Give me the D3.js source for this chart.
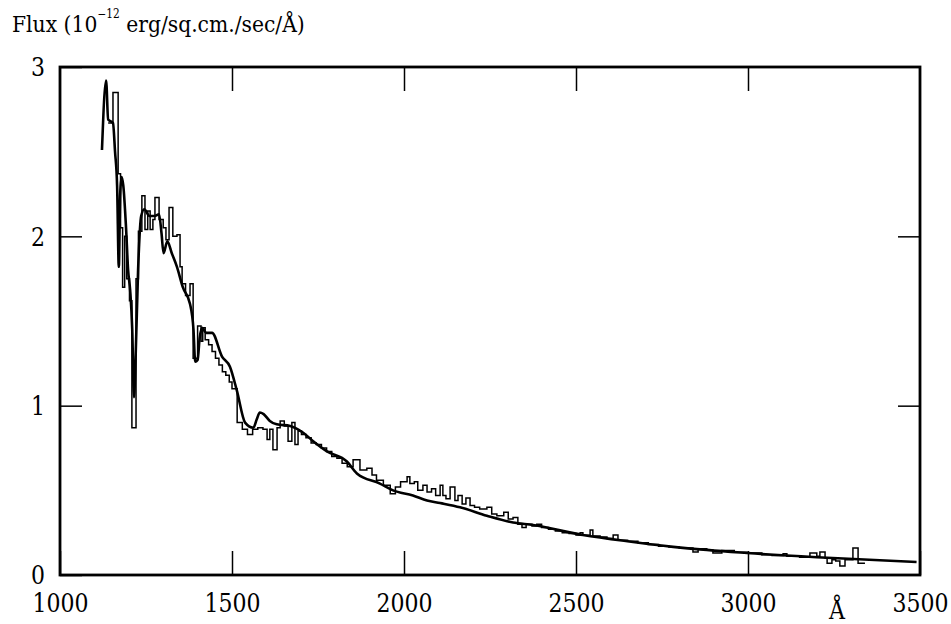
<!DOCTYPE html>
<html>
  <head>
    <meta charset="utf-8">
    <script src="https://d3js.org/d3.v7.min.js"></script>
    <style>
      body { margin: 0; background: #fff; }
      text { font-family: "DejaVu Serif", serif; fill: #000; }
    </style>
  </head>
<body>
  <script type="text/javascript">
    "use strict";

    // smooth model curve (thick line)
    var modelWave = [1122, 1134, 1140, 1154, 1160, 1166, 1171, 1175, 1179, 1184, 1192, 1198, 1204, 1210, 1215,
      1220, 1227, 1236, 1245, 1260, 1275, 1288, 1295, 1301, 1312, 1325, 1340, 1357, 1378, 1388, 1393, 1400,
      1406, 1413, 1425, 1442, 1471, 1494, 1514, 1538, 1562, 1572, 1581, 1592, 1610, 1630, 1669, 1707, 1736,
      1776, 1834, 1863, 1930, 1968, 2026, 2067, 2105, 2163, 2241, 2317, 2375, 2520, 2666, 2811, 2997, 3200, 3490];
    var modelFlux = [2.51, 2.92, 2.69, 2.67, 2.50, 2.30, 1.82, 2.25, 2.35, 2.30, 2.05, 1.80, 1.68, 1.45, 1.05,
      1.30, 1.80, 2.12, 2.16, 2.12, 2.12, 2.13, 2.02, 1.90, 1.97, 1.90, 1.82, 1.70, 1.60, 1.45, 1.26, 1.27,
      1.40, 1.46, 1.43, 1.43, 1.29, 1.23, 1.09, 0.90, 0.87, 0.92, 0.96, 0.95, 0.91, 0.89, 0.88, 0.84, 0.79,
      0.73, 0.67, 0.60, 0.54, 0.50, 0.47, 0.44, 0.425, 0.40, 0.35, 0.31, 0.295, 0.236, 0.195, 0.16, 0.13, 0.105, 0.077];

    // observed spectrum, binned (thin step line); bin start wavelengths
    var obsWave = [1140, 1154, 1169, 1176, 1182, 1188, 1194, 1202, 1209, 1221, 1228, 1238, 1247, 1255, 1262,
      1270, 1276, 1288, 1300, 1308, 1317, 1328, 1340, 1349, 1355, 1365, 1378, 1387, 1400, 1410, 1415, 1422,
      1432, 1442, 1452, 1462, 1472, 1482, 1492, 1500, 1515, 1530, 1545, 1560, 1575, 1590, 1602, 1610, 1619,
      1631, 1640, 1652, 1663, 1674, 1683, 1692, 1702, 1715, 1730, 1745, 1760, 1775, 1790, 1805, 1820, 1835,
      1852, 1872, 1892, 1907, 1920, 1940, 1960, 1975, 1990, 2009, 2017, 2030, 2040, 2055, 2067, 2080, 2092,
      2105, 2113, 2122, 2134, 2148, 2157, 2169, 2180, 2192, 2205, 2220, 2241, 2255, 2270, 2290, 2303, 2317,
      2331, 2343, 2355, 2372, 2386, 2400, 2420, 2440, 2460, 2480, 2500, 2512, 2520, 2541, 2549, 2570, 2590,
      2608, 2622, 2650, 2680, 2710, 2740, 2770, 2800, 2840, 2855, 2880, 2898, 2924, 2960, 3000, 3040, 3070,
      3102, 3113, 3150, 3180, 3200, 3209, 3224, 3230, 3244, 3255, 3267, 3282, 3305, 3320];
    var obsFlux = [2.67, 2.85, 2.37, 2.05, 1.70, 2.00, 1.75, 1.62, 0.87, 1.75, 2.03, 2.24, 2.04, 2.15, 2.04,
      2.10, 2.23, 2.10, 2.05, 1.98, 2.17, 2.00, 2.01, 1.82, 1.72, 1.65, 1.72, 1.28, 1.47, 1.38, 1.46, 1.39,
      1.36, 1.32, 1.28, 1.24, 1.20, 1.18, 1.14, 1.10, 0.90, 0.86, 0.83, 0.86, 0.87, 0.86, 0.80, 0.86, 0.74,
      0.87, 0.91, 0.88, 0.79, 0.90, 0.77, 0.85, 0.83, 0.81, 0.78, 0.77, 0.75, 0.73, 0.70, 0.69, 0.66, 0.64,
      0.68, 0.62, 0.63, 0.59, 0.56, 0.53, 0.48, 0.52, 0.55, 0.58, 0.54, 0.55, 0.50, 0.53, 0.49, 0.51, 0.47,
      0.53, 0.47, 0.45, 0.52, 0.44, 0.47, 0.42, 0.455, 0.41, 0.40, 0.39, 0.40, 0.36, 0.35, 0.37, 0.33, 0.34,
      0.30, 0.28, 0.30, 0.29, 0.30, 0.28, 0.27, 0.26, 0.25, 0.245, 0.236, 0.25, 0.235, 0.266, 0.23, 0.225, 0.215,
      0.236, 0.205, 0.20, 0.19, 0.18, 0.17, 0.165, 0.16, 0.136, 0.155, 0.148, 0.13, 0.145, 0.135, 0.13, 0.12, 0.115,
      0.125, 0.11, 0.105, 0.13, 0.11, 0.136, 0.10, 0.07, 0.09, 0.083, 0.053, 0.09, 0.16, 0.07];
    var obsEnd = 3340;

    var xTicks = [1000, 1500, 2000, 2500, 3000, 3500];
    var yTicks = [0, 1, 2, 3];

    var width = 951, height = 624;
    var plotLeft = 60, plotRight = 920, plotTop = 67, plotBottom = 575;

    var svg = d3.select("body").append("svg")
        .attr("width", width)
        .attr("height", height);

    var x = d3.scaleLinear().domain([1000, 3500]).range([plotLeft, plotRight]);
    var y = d3.scaleLinear().domain([0, 3]).range([plotBottom, plotTop]);

    // squeeze a text horizontally to a given width, keeping its anchor point
    function fitWidth(sel, target, ax, ay) {
      sel.each(function(d) {
        var w = this.getComputedTextLength();
        var t = typeof target === "function" ? target(d) : target;
        var s = w > 0 ? t / w : 1;
        d3.select(this).attr("x", 0).attr("y", 0)
          .attr("transform", "translate(" + ax + "," + ay + ") scale(" + s + ",1)");
      });
    }

    // axes: ticks point inward
    var gx = svg.append("g").attr("transform", "translate(0," + plotBottom + ")")
        .call(d3.axisBottom(x).tickValues(xTicks).tickSize(-24).tickFormat(d3.format("d")));
    svg.append("g").attr("transform", "translate(0," + plotTop + ")")
        .call(d3.axisTop(x).tickValues(xTicks.slice(1, -1)).tickSize(-24).tickFormat(""));
    var gy = svg.append("g").attr("transform", "translate(" + plotLeft + ",0)")
        .call(d3.axisLeft(y).tickValues(yTicks).tickSize(-22).tickFormat(d3.format("d")));
    svg.append("g").attr("transform", "translate(" + plotRight + ",0)")
        .call(d3.axisRight(y).tickValues(yTicks.slice(1, -1)).tickSize(-22).tickFormat(""));

    svg.selectAll(".domain").remove();
    svg.selectAll(".tick line").attr("stroke", "#000").attr("stroke-width", 1.5);
    svg.selectAll(".tick text")
        .style("font-family", '"DejaVu Serif", serif')
        .style("font-size", "26px")
        .attr("fill", "#000");
    gx.selectAll(".tick text").attr("dy", "0")
        .call(fitWidth, function(d) { return 14 * String(d).length; }, 0, 37);
    gy.selectAll(".tick text").attr("dy", "0.34em")
        .call(fitWidth, function(d) { return 14 * String(d).length; }, -15, 0);

    // frame
    svg.append("rect")
        .attr("x", plotLeft).attr("y", plotTop)
        .attr("width", plotRight - plotLeft).attr("height", plotBottom - plotTop)
        .attr("fill", "none").attr("stroke", "#000").attr("stroke-width", 2.8);

    // observed step line
    var obsPts = obsWave.map(function(w, i) { return [w, obsFlux[i]]; });
    obsPts.push([obsEnd, obsFlux[obsFlux.length - 1]]);
    svg.append("path")
        .attr("d", d3.line().x(function(d) { return x(d[0]); }).y(function(d) { return y(d[1]); })
          .curve(d3.curveStepAfter)(obsPts))
        .attr("fill", "none").attr("stroke", "#000").attr("stroke-width", 1.5);

    // model line
    var modelPts = modelWave.map(function(w, i) { return [w, modelFlux[i]]; });
    svg.append("path")
        .attr("d", d3.line().x(function(d) { return x(d[0]); }).y(function(d) { return y(d[1]); })
          .curve(d3.curveMonotoneX)(modelPts))
        .attr("fill", "none").attr("stroke", "#000").attr("stroke-width", 2.6)
        .attr("stroke-linejoin", "round");

    // titles
    var title = svg.append("text").style("font-size", "23px");
    title.append("tspan").text("Flux (10");
    title.append("tspan").attr("dy", -14).style("font-size", "12px").text("\u221212");
    title.append("tspan").attr("dy", 14).text(" erg/sq.cm./sec/\u00C5)");
    title.call(fitWidth, 293, 12, 32);

    svg.append("text")
        .attr("text-anchor", "middle")
        .style("font-size", "26px")
        .text("\u00C5")
        .call(fitWidth, 16, 837, 619);
  </script>
</body>
</html>
